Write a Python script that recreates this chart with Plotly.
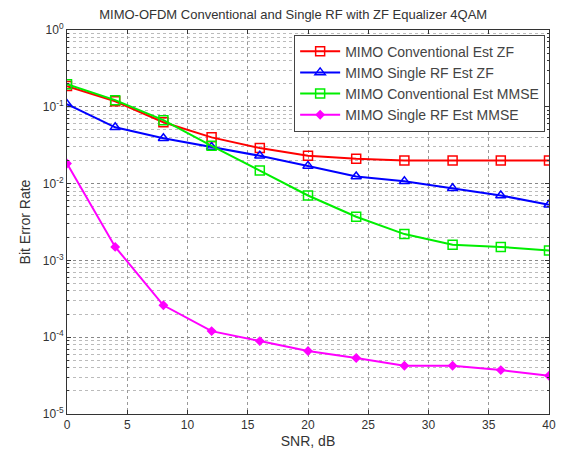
import plotly.graph_objects as go

snr = [0, 4, 8, 12, 16, 20, 24, 28, 32, 36, 40]
conv_zf = [0.186, 0.118, 0.063, 0.040, 0.029, 0.023, 0.021, 0.020, 0.020, 0.020, 0.020]
single_zf = [0.108, 0.054, 0.039, 0.030, 0.023, 0.017, 0.0124, 0.0107, 0.0087, 0.0070, 0.0053]
conv_mmse = [0.197, 0.122, 0.067, 0.031, 0.0148, 0.0070, 0.0037, 0.0022, 0.0016, 0.0015, 0.00135]
single_mmse = [0.0183, 0.0015, 0.00026, 0.00012, 0.000089, 0.000066, 0.0000537, 0.0000425,
               0.0000425, 0.0000373, 0.0000315]

names = ["MIMO Conventional Est ZF", "MIMO Single RF Est ZF",
         "MIMO Conventional Est MMSE", "MIMO Single RF Est MMSE"]
series = [conv_zf, single_zf, conv_mmse, single_mmse]
colors = ["#ff0000", "#0000ff", "#00ee00", "#ff00ff"]
symbols = ["square-open", "triangle-up-open", "square-open", "diamond"]
msizes = [9, 9, 9, 6]

y_tickvals = [1e-5, 1e-4, 1e-3, 1e-2, 1e-1, 1]
y_ticktext = ["10<sup>-5</sup>", "10<sup>-4</sup>", "10<sup>-3</sup>",
              "10<sup>-2</sup>", "10<sup>-1</sup>", "10<sup>0</sup>"]
x_tickvals = [0, 5, 10, 15, 20, 25, 30, 35, 40]

minor_vals = [m * 10 ** e for e in range(-5, 0) for m in range(2, 10)]

fig = go.Figure()
for nm, ys, c, s, ms in zip(names, series, colors, symbols, msizes):
    fig.add_trace(go.Scatter(
        x=snr, y=ys, name=nm, mode="lines+markers",
        line=dict(color=c, width=2),
        marker=dict(symbol=s, size=ms, color=c, line=dict(color=c, width=1.5)),
    ))

font = dict(family="Liberation Sans, Arial, sans-serif", size=12, color="#333333")

fig.update_layout(
    width=566, height=456,
    margin=dict(l=67, r=10, t=30, b=42),
    paper_bgcolor="white", plot_bgcolor="white",
    font=font,
    title=dict(text="MIMO-OFDM Conventional and Single RF with ZF Equalizer 4QAM",
               x=0.518, xanchor="center", y=0.978, yanchor="top",
               font=dict(size=13, color="#333333")),
    legend=dict(x=0.992, xanchor="right", y=0.988, yanchor="top",
                bgcolor="white", bordercolor="#444444", borderwidth=1,
                font=dict(size=14, color="#444444"),
                tracegroupgap=0, itemwidth=40),
    showlegend=True,
)
fig.update_xaxes(
    range=[0, 40], tickvals=x_tickvals,
    showgrid=True, gridcolor="#999999", griddash="dot", gridwidth=1,
    showline=True, linecolor="#333333", linewidth=1, mirror="ticks",
    ticks="inside", ticklen=4, tickcolor="#333333",
    zeroline=False,
    title=dict(text="SNR, dB", standoff=4),
)
fig.update_yaxes(
    type="log", range=[-5, 0], tickvals=y_tickvals, ticktext=y_ticktext,
    showgrid=True, gridcolor="#888888", griddash="dot", gridwidth=1,
    showline=True, linecolor="#333333", linewidth=1, mirror="ticks",
    ticks="inside", ticklen=4, tickcolor="#333333",
    minor=dict(tickvals=minor_vals, showgrid=True, gridcolor="#bbbbbb",
               griddash="dot", ticks="inside", ticklen=2, tickcolor="#333333"),
    zeroline=False,
    title=dict(text="Bit Error Rate", standoff=8),
)

fig.write_html("out.html")
